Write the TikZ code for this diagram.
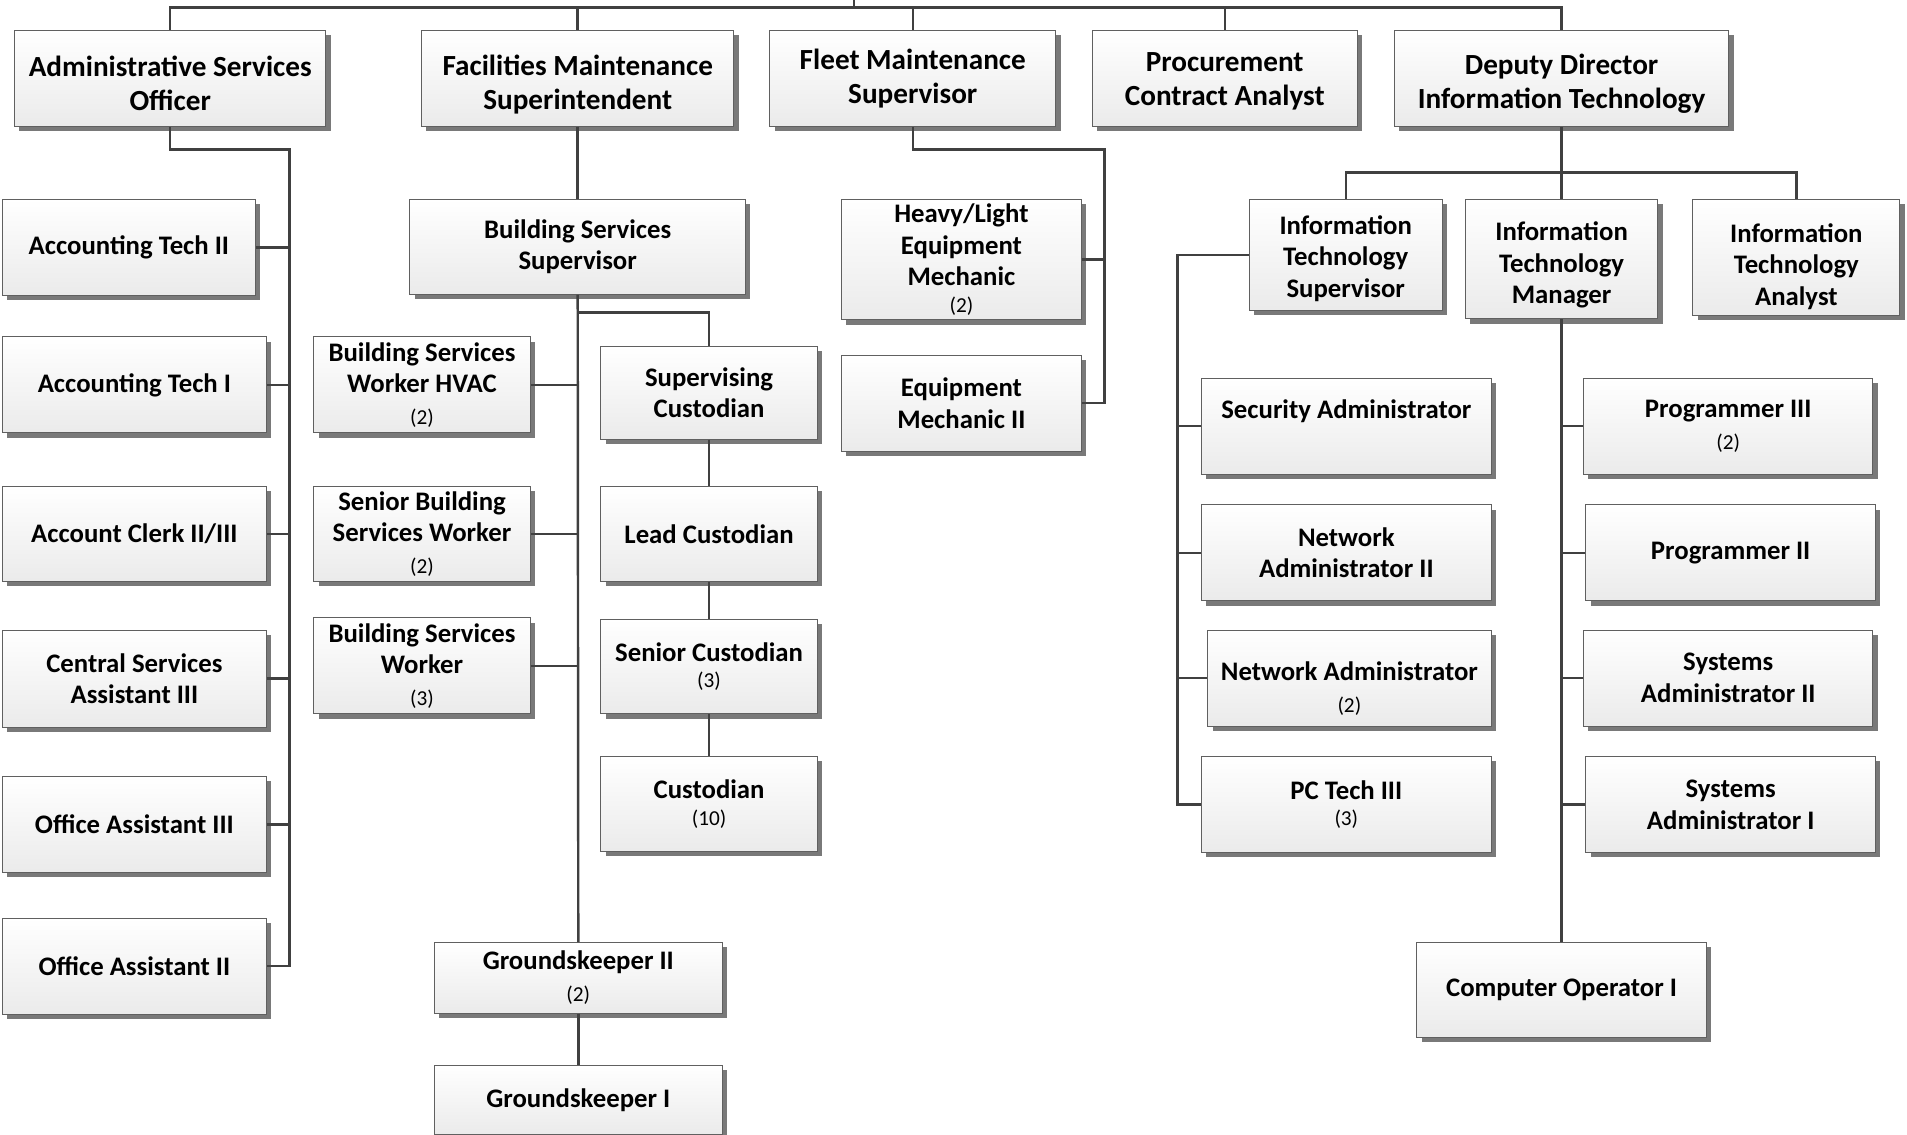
\documentclass[tikz,border=0pt]{standalone}
\usepackage{fontspec}
\setmainfont{Carlito}
\usetikzlibrary{shadows}
\newcommand{\headcount}[1]{{\normalfont\fontsize{17.5}{20}\selectfont(#1)}}
\newcommand{\nocount}{\phantom{\headcount{2}}}
\newcommand{\textdrop}[1]{\rule{0pt}{#1}}
\begin{document}
\begin{tikzpicture}[x=1pt,y=-1pt]
\tikzstyle{orgbox}=[draw=gray!75!black, line width=0.8pt, top color=white, bottom color=gray!16,
  drop shadow={shadow xshift=4pt, shadow yshift=-4pt, fill=gray!95!black, opacity=1},
  align=center, inner sep=1pt, font=\bfseries\fontsize{22}{26}\selectfont]
\tikzstyle{headbox}=[orgbox, font=\bfseries\fontsize{24}{28}\selectfont]
\tikzstyle{link}=[draw=black!75, line width=2pt]
\useasboundingbox (0,0) rectangle (1568,933);
\coordinate (DirectorLink) at (702,0);
\coordinate (TopBar)       at (702,6);
% Top row
\node[headbox, minimum width=256, minimum height=79] (AdminOfficer)   at (140,64.5)    {\textdrop{25pt}Administrative Services\\Officer};
\node[headbox, minimum width=257, minimum height=79] (FacilitiesSupt) at (475,64.5)    {\textdrop{27pt}Facilities Maintenance\\Superintendent};
\node[headbox, minimum width=235, minimum height=79] (FleetSupv)      at (750.5,64.5)  {Fleet Maintenance\\Supervisor};
\node[headbox, minimum width=218, minimum height=79] (ProcAnalyst)    at (1007,64.5)   {\textdrop{21pt}Procurement\\Contract Analyst};
\node[headbox, minimum width=275, minimum height=79] (DeputyDirIT)    at (1284,64.5)   {\textdrop{25pt}Deputy Director\\Information Technology};
% Administrative services
\node[orgbox, minimum width=208, minimum height=79] (AcctTechII)    at (106,203.5)   {Accounting Tech II};
\node[orgbox, minimum width=217, minimum height=79] (AcctTechI)     at (110.5,316.5) {Accounting Tech I};
\node[orgbox, minimum width=217, minimum height=78] (AcctClerk)     at (110.5,439)   {Account Clerk II/III};
\node[orgbox, minimum width=217, minimum height=80] (CentralAsst)   at (110.5,558)   {Central Services\\Assistant III};
\node[orgbox, minimum width=217, minimum height=79] (OfficeAsstIII) at (110.5,678)   {Office Assistant III};
\node[orgbox, minimum width=217, minimum height=79] (OfficeAsstII)  at (110.5,794.5) {Office Assistant II};
% Facilities maintenance
\node[orgbox, minimum width=276, minimum height=78] (BldgSupv)      at (475,203)     {Building Services\\Supervisor};
\node[orgbox, minimum width=178, minimum height=79] (BldgHVAC)      at (347,316.5)   {Building Services\\Worker HVAC\\\headcount{2}};
\node[orgbox, minimum width=178, minimum height=78] (SrBldgWorker)  at (347,439)     {Senior Building\\Services Worker\\\headcount{2}};
\node[orgbox, minimum width=178, minimum height=79] (BldgWorker)    at (347,547.5)   {Building Services\\Worker\\\headcount{3}};
\node[orgbox, minimum width=178, minimum height=76] (SupvCustodian) at (583,323)     {Supervising\\Custodian};
\node[orgbox, minimum width=178, minimum height=78] (LeadCustodian) at (583,439)     {Lead Custodian};
\node[orgbox, minimum width=178, minimum height=78] (SrCustodian)   at (583,548)     {Senior Custodian\\[-4pt]\headcount{3}};
\node[orgbox, minimum width=178, minimum height=78] (Custodian)     at (583,661)     {Custodian\\[-4pt]\headcount{10}};
\node[orgbox, minimum width=237, minimum height=58] (GroundsII)     at (475.5,804)   {Groundskeeper II\\\headcount{2}};
\node[orgbox, minimum width=237, minimum height=57] (GroundsI)      at (475.5,904.5) {Groundskeeper I};
% Fleet maintenance
\node[orgbox, minimum width=197, minimum height=99] (HeavyMech)     at (790.5,213.5) {Heavy/Light\\Equipment\\Mechanic\\[-4pt]\headcount{2}};
\node[orgbox, minimum width=197, minimum height=79] (EquipMechII)   at (790.5,331.5) {Equipment\\Mechanic II};
% Information technology
\node[orgbox, minimum width=159, minimum height=91] (ITSupv)        at (1106.5,209.5) {\textdrop{21.5pt}Information\\Technology\\Supervisor};
\node[orgbox, minimum width=158, minimum height=98] (ITMgr)         at (1284,213)     {\textdrop{25.5pt}Information\\Technology\\Manager};
\node[orgbox, minimum width=170, minimum height=95] (ITAnalyst)     at (1477,211.5)   {\textdrop{31pt}Information\\Technology\\Analyst};
\node[orgbox, minimum width=238, minimum height=79] (SecAdmin)      at (1107,350.5)   {Security Administrator\\\nocount};
\node[orgbox, minimum width=238, minimum height=79] (NetAdminII)    at (1107,454.5)   {Network\\Administrator II};
\node[orgbox, minimum width=233, minimum height=79] (NetAdmin)      at (1109.5,557.5) {\textdrop{33pt}Network Administrator\\\headcount{2}};
\node[orgbox, minimum width=238, minimum height=79] (PCTechIII)     at (1107,661.5)   {PC Tech III\\[-4pt]\headcount{3}};
\node[orgbox, minimum width=238, minimum height=79] (ProgIII)       at (1421,350.5)   {Programmer III\\\headcount{2}};
\node[orgbox, minimum width=238, minimum height=79] (ProgII)        at (1423,454.5)   {Programmer II};
\node[orgbox, minimum width=238, minimum height=79] (SysAdminII)    at (1421,557.5)   {Systems\\Administrator II};
\node[orgbox, minimum width=238, minimum height=79] (SysAdminI)     at (1423,661.5)   {Systems\\Administrator I};
\node[orgbox, minimum width=238, minimum height=78] (CompOp)        at (1284,814)     {Computer Operator I};
% Junctions
\coordinate (AdminTrunk)   at (238,123);
\coordinate (CustBranch)   at (475,257);
\coordinate (FleetTrunk)   at (908,123);
\coordinate (ITBar)        at (1284,142);
\coordinate (ITSupvTrunk)  at (968,209.5);
% Top bar
\draw[link] (DirectorLink) -- (TopBar);
\draw[link] (AdminOfficer.north) |- (TopBar) -| (DeputyDirIT.north);
\foreach \n in {FacilitiesSupt,FleetSupv,ProcAnalyst}
  \draw[link] (\n.north) -- (\n.north |- TopBar);
% Administrative services
\draw[link] (AdminOfficer.south) |- (AdminTrunk) |- (OfficeAsstII.east);
\foreach \n in {AcctTechII,AcctTechI,AcctClerk,CentralAsst,OfficeAsstIII}
  \draw[link] (\n.east) -- (\n.east -| AdminTrunk);
% Facilities maintenance
\draw[link] (FacilitiesSupt.south) -- (BldgSupv.north);
\draw[link] (BldgSupv.south) -- (GroundsII.north);
\draw[link] (GroundsII.south) -- (GroundsI.north);
\draw[link] (CustBranch) -| (SupvCustodian.north);
\draw[link] (SupvCustodian.south) -- (LeadCustodian.north);
\draw[link] (LeadCustodian.south) -- (SrCustodian.north);
\draw[link] (SrCustodian.south) -- (Custodian.north);
\foreach \n in {BldgHVAC,SrBldgWorker,BldgWorker}
  \draw[link] (\n.east) -- (\n.east -| BldgSupv.south);
% Fleet maintenance
\draw[link] (FleetSupv.south) |- (FleetTrunk) |- (EquipMechII.east);
\draw[link] (HeavyMech.east) -- (HeavyMech.east -| FleetTrunk);
% Information technology
\draw[link] (DeputyDirIT.south) -- (ITMgr.north);
\draw[link] (ITSupv.north) |- (ITBar) -| (ITAnalyst.north);
\draw[link] (ITSupv.west) -- (ITSupvTrunk) |- (PCTechIII.west);
\foreach \n in {SecAdmin,NetAdminII,NetAdmin}
  \draw[link] (\n.west) -- (\n.west -| ITSupvTrunk);
\draw[link] (ITMgr.south) -- (CompOp.north);
\foreach \n in {ProgIII,ProgII,SysAdminII,SysAdminI}
  \draw[link] (\n.west) -- (\n.west -| ITMgr.south);
\end{tikzpicture}
\end{document}
